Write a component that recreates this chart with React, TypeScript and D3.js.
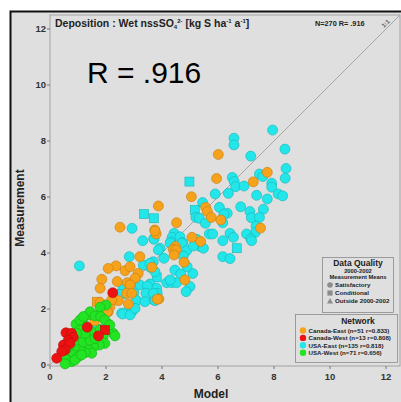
import React from "react";
import * as d3 from "d3";

type P = [number, number, string?];

const canadaEast: P[] = [
  [6.01,7.52],[5.95,6.66],[7.26,6.54],[7.76,6.88],[5.05,6.01],[3.87,5.68],[5.56,5.63],[5.62,5.48],
  [5.76,5.27],[6.10,5.18],[4.52,5.08],[7.52,4.89],[3.74,4.82],[3.79,4.68],[5.07,4.56],[5.38,4.41],
  [4.48,4.23],[4.40,4.13],[4.50,4.11],[4.43,3.93],[4.79,3.67],[3.64,3.49],[4.82,3.04],[3.89,2.36],
  [2.50,4.92],[3.75,4.79],[3.21,3.87],[2.36,3.54],[2.08,3.45],[2.68,3.37],[2.86,3.51],[3.15,3.27],
  [3.04,3.10],[1.85,3.06],[2.40,2.98],[2.76,2.94],[2.86,2.86],[1.79,2.74],[2.74,2.56],[2.92,2.56],
  [3.83,2.35],[2.44,2.30],[1.67,2.26,"s"],[1.79,2.23],[2.08,1.90],[2.14,2.08],[2.80,2.18],[2.20,2.32],
  [1.59,1.57,"s"],[1.31,0.95],[2.05,1.90]
];

const canadaWest: P[] = [
  [2.24,2.58],[1.33,1.35],[1.96,1.25,"s"],[1.73,1.04],[0.57,1.15],[0.77,1.13],[0.83,0.99],
  [0.65,0.87],[0.48,0.71],[0.71,0.77],[0.54,0.54],[0.42,0.48],[0.24,0.24]
];

const usaEast: P[] = [
  [7.95,8.39],[6.57,8.10],[6.57,7.86],[8.39,7.71],[7.17,7.46],[8.43,7.02],[7.48,6.82],[7.60,6.73],
  [8.40,6.67],[4.98,6.55,"s"],[6.51,6.70],[6.58,6.55],[7.92,6.49],[6.63,6.37],[6.93,6.39],[7.92,6.35],
  [5.90,6.11],[6.37,6.13],[7.38,6.06],[8.15,6.11],[8.31,6.04],[7.76,5.93],[5.45,5.80],[5.17,5.54,"s"],
  [6.05,5.63],[6.81,5.65],[7.62,5.56],[6.33,5.42],[6.21,5.39],[7.14,5.48],[7.19,5.26],[7.48,5.27],
  [5.21,5.27],[5.33,5.24],[5.55,5.06],[6.17,5.08],[3.71,5.24,"s"],[3.36,5.39,"s"],[7.36,4.96],[7.33,4.73],
  [7.02,4.68],[5.69,4.68],[5.81,4.68],[6.43,4.70],[6.55,4.56],[7.17,4.51],[7.20,4.44],[4.43,4.70],
  [4.36,4.56],[4.64,4.58],[4.74,4.37],[4.31,4.40],[5.24,4.49],[6.17,4.44],[3.93,4.17],[5.36,4.23],
  [5.48,4.17],[6.67,4.17,"s"],[3.71,4.52],[6.17,3.87],[6.43,3.80],[4.29,4.35],[4.71,4.35],[4.88,4.08],
  [5.12,4.25],[4.76,3.89],[4.07,3.81],[3.69,3.69],[3.57,3.49],[4.46,3.39],[4.67,3.25],[5.10,3.27],
  [4.90,3.51],[3.81,3.13,"s"],[4.17,2.94],[4.35,2.94],[4.52,2.94],[4.29,3.04],[5.00,2.80],[4.86,2.62],
  [3.57,2.89],[3.81,2.74],[3.83,2.56],[3.71,2.32],[2.93,4.88],[3.31,4.44],[3.71,4.49],[3.87,4.11],
  [2.83,3.87],[1.05,3.54],[3.33,3.57],[3.57,3.63],[3.75,3.33],[2.60,2.70],[3.21,2.86],[3.48,2.82],
  [3.00,2.58],[3.43,2.56],[3.69,2.56],[2.56,2.54,"s"],[3.10,2.30],[3.39,2.26],[3.75,2.30],[2.56,1.85],
  [2.83,2.02],[2.92,1.90],[1.55,1.25],[2.60,1.82],[2.86,1.79],[3.04,2.02]
];

const usaWest: P[] = [
  [2.00,2.14],[1.73,1.79],[1.37,1.79],[1.79,2.06],[2.08,1.46],[2.26,1.13],[2.32,1.04],[0.93,1.46],
  [1.19,1.49],[1.07,1.25],[1.45,1.22],[1.79,1.27],[1.90,1.01],[1.96,0.77],[1.76,0.71],[1.55,0.65],
  [1.37,0.54],[1.49,0.42],[1.25,0.44],[1.07,0.54],[0.89,0.65],[0.71,0.71],[0.95,0.89],[1.19,0.83],
  [1.43,0.89],[1.61,0.95],[0.77,1.01],[0.65,0.42],[0.83,0.36],[1.01,0.30],[0.60,0.18],[0.77,0.12],
  [0.54,0.04],[0.89,0.18],[1.13,0.36],[0.60,0.60],[1.25,1.13],[0.95,1.13],[1.43,1.90],[1.61,1.75],
  [1.81,1.73],[1.96,1.61],[2.14,1.43],[1.07,1.61],[1.19,1.73]
];

const networks = [
  { name: "Canada-East (n=51 r=0.833)", color: "#f7a21b", pts: canadaEast },
  { name: "Canada-West (n=13 r=0.808)", color: "#ee1111", pts: canadaWest },
  { name: "USA-East (n=135 r=0.818)", color: "#22e6ea", pts: usaEast },
  { name: "USA-West (n=71 r=0.656)", color: "#22e422", pts: usaWest },
];

const ticks = [0, 2, 4, 6, 8, 10, 12];
const qualityItems = ["Satisfactory", "Conditional", "Outside 2000-2002"];

const FONT = "'Liberation Sans', Arial, sans-serif";

export default function App() {
  const x = d3.scaleLinear().domain([0, 12.5]).range([50, 400]);
  const y = d3.scaleLinear().domain([0, 12.5]).range([365, 15]);
  const drawOrder = [2, 0, 3, 1];
  const r = 5;

  return (
    <svg width={401} height={402} style={{ position: "absolute", left: 0, top: 0, background: "#fff" }} fontFamily={FONT}>
      <rect x={10.5} y={11.5} width={400} height={400} fill="#dfdfdf" stroke="#111" strokeWidth={2} />
      <rect x={x(0)} y={y(12.5)} width={x(12.5) - x(0)} height={y(0) - y(12.5) + 1} fill="#dfdfdf" stroke="#a3a3a3" strokeWidth={1} />
      <line x1={x(0)} y1={y(0)} x2={x(12.5)} y2={y(12.5)} stroke="#a6a6a6" strokeWidth={1} />
      {ticks.map((t) => (
        <g key={"y" + t}>
          <line x1={x(0) - 3} x2={x(0)} y1={y(t)} y2={y(t)} stroke="#777" />
          <text x={x(0) - 4} y={y(t) + 3.3} fontSize={9.5} fontWeight="bold" textAnchor="end" fill="#333">{t}</text>
        </g>
      ))}
      {ticks.map((t) => (
        <g key={"x" + t}>
          <line x1={x(t)} x2={x(t)} y1={y(0) + 1} y2={y(0) + 4} stroke="#777" />
          <text x={x(t)} y={380} fontSize={9.5} fontWeight="bold" textAnchor="middle" fill="#333">{t}</text>
        </g>
      ))}
      <text x={211} y={398} fontSize={12} fontWeight="bold" textAnchor="middle" fill="#222">Model</text>
      <text transform="translate(24,208) rotate(-90)" fontSize={12} fontWeight="bold" textAnchor="middle" fill="#222">Measurement</text>
      <text x={55} y={27} fontSize={10.5} fontWeight="bold" fill="#222">
        Deposition : Wet nssSO
        <tspan fontSize={6} dy={2}>4</tspan>
        <tspan fontSize={6} dy={-6}>2-</tspan>
        <tspan dy={4}> [kg S ha</tspan>
        <tspan fontSize={6} dy={-4}>-1</tspan>
        <tspan dy={4}> a</tspan>
        <tspan fontSize={6} dy={-4}>-1</tspan>
        <tspan dy={4}>]</tspan>
      </text>
      <text x={315} y={26} fontSize={7.3} fontWeight="bold" fill="#222">N=270  R= .916</text>
      <text transform={`translate(387,25) rotate(-45)`} fontSize={6} fontWeight="bold" fill="#555" textAnchor="middle">1:1</text>
      <text x={87} y={83} fontSize={30} fill="#000">R = .916</text>
      {drawOrder.map((ni) => {
        const n = networks[ni];
        const stroke = d3.color(n.color)!.darker(0.7).toString();
        return (
          <g key={n.name}>
            {n.pts.map((p, i) =>
              p[2] === "s" ? (
                <rect key={i} x={x(p[0]) - 4.5} y={y(p[1]) - 4.5} width={9} height={9} fill={n.color} stroke={stroke} strokeWidth={0.6} />
              ) : (
                <circle key={i} cx={x(p[0])} cy={y(p[1])} r={r} fill={n.color} stroke={stroke} strokeWidth={0.6} />
              )
            )}
          </g>
        );
      })}
      <rect x={322.5} y={257.5} width={71} height={55} fill="#dfdfdf" stroke="#8a8a8a" strokeWidth={0.8} />
      <text x={358} y={266} fontSize={8.5} fontWeight="bold" textAnchor="middle" fill="#222">Data Quality</text>
      <text x={358} y={272.5} fontSize={5.8} fontWeight="bold" textAnchor="middle" fill="#222">2000-2002</text>
      <text x={358} y={279} fontSize={5.8} fontWeight="bold" textAnchor="middle" fill="#222">Measurement Means</text>
      {qualityItems.map((q, i) => {
        const cy = 285 + i * 8;
        return (
          <g key={q}>
            {i === 0 && <circle cx={330} cy={cy} r={2.8} fill="#8c8c8c" />}
            {i === 1 && <rect x={327.4} y={cy - 2.6} width={5.2} height={5.2} fill="#8c8c8c" />}
            {i === 2 && <path d={`M330,${cy - 3}L333,${cy + 2.4}L327,${cy + 2.4}Z`} fill="#8c8c8c" />}
            <text x={335} y={cy + 2.2} fontSize={6.2} fontWeight="bold" fill="#222">{q}</text>
          </g>
        );
      })}
      <rect x={295.5} y={314.5} width={102} height={48} fill="#dfdfdf" stroke="#8a8a8a" strokeWidth={0.8} />
      <text x={358} y={324} fontSize={8.5} fontWeight="bold" textAnchor="middle" fill="#222">Network</text>
      {networks.map((n, i) => {
        const cy = 330.5 + i * 7.4;
        return (
          <g key={n.name}>
            <circle cx={303} cy={cy} r={3.2} fill={n.color} />
            <text x={308.5} y={cy + 2.2} fontSize={6.2} fontWeight="bold" fill="#222">{n.name}</text>
          </g>
        );
      })}
    </svg>
  );
}
